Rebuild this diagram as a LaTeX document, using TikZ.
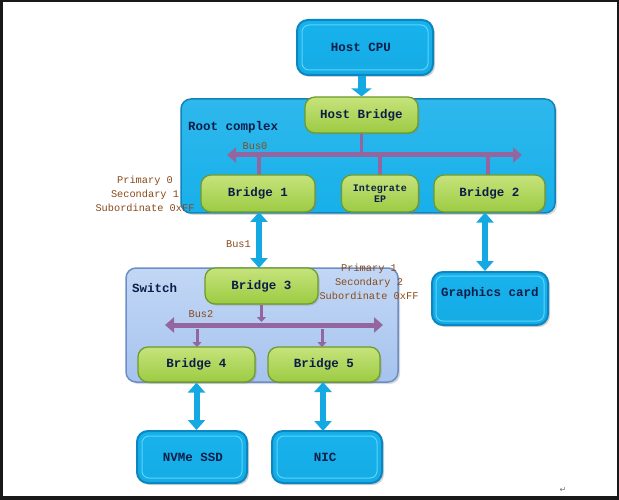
\documentclass[tikz,border=0pt]{standalone}
\usepackage{fontspec}
\setmonofont{Liberation Mono}
\newfontfamily\symfont{DejaVu Sans}
\usetikzlibrary{arrows.meta,shadows,calc}
\definecolor{cyanL}{HTML}{5AD4FB}
\definecolor{cyanM}{HTML}{17B2EC}
\definecolor{cyanD}{HTML}{0C86C0}
\definecolor{rcFill}{HTML}{17B0EA}
\definecolor{rcDraw}{HTML}{1282BA}
\definecolor{greenL}{HTML}{C6E37C}
\definecolor{greenM}{HTML}{9CCB42}
\definecolor{greenD}{HTML}{6E9A2A}
\definecolor{swL}{HTML}{C2D7F5}
\definecolor{swM}{HTML}{A6C3EE}
\definecolor{swD}{HTML}{6C8EC6}
\definecolor{busC}{HTML}{9466A0}
\definecolor{busD}{HTML}{6E4A7E}
\definecolor{brownT}{HTML}{8A4A1C}
\definecolor{navyT}{HTML}{0C1E48}
\tikzset{
  boxtext/.style={font=\ttfamily\bfseries\fontsize{12.5}{14}\selectfont, text=navyT},
  greenbox/.style={boxtext, rounded corners=10pt, inner sep=0pt, draw=greenD, line width=1.2pt,
    top color=greenL, bottom color=greenM, drop shadow={shadow xshift=1.5pt, shadow yshift=-1.5pt, opacity=0.35}},
  devbox/.style={boxtext, rounded corners=11pt, inner sep=0pt, draw=cyanD, line width=2pt,
    top color=cyanM, bottom color=cyanM!85!cyanD, drop shadow={shadow xshift=2pt, shadow yshift=-2pt, opacity=0.35}},
  innerline/.style={draw=cyanL, line width=1pt, rounded corners=7pt},
  rcbox/.style={rounded corners=10pt, draw=rcDraw, line width=1.5pt, top color=rcFill!90!white, bottom color=rcFill,
    drop shadow={shadow xshift=2pt, shadow yshift=-2pt, opacity=0.3}},
  swbox/.style={rounded corners=10pt, draw=swD, line width=1.5pt, top color=swL, bottom color=swM,
    drop shadow={shadow xshift=2pt, shadow yshift=-2pt, opacity=0.3}},
  grouplabel/.style={font=\ttfamily\bfseries\fontsize{12.5}{14}\selectfont, text=navyT, anchor=west, inner sep=0pt},
  buslabel/.style={font=\ttfamily\fontsize{10.3}{12}\selectfont, text=brownT, inner sep=0pt},
  numlabel/.style={font=\ttfamily\fontsize{10.3}{14}\selectfont, text=brownT, align=center, inner sep=0pt},
  bus/.style={line width=5pt, draw=busC, {Triangle[length=9pt,width=15pt]}-{Triangle[length=9pt,width=15pt]}},
  buslink/.style={line width=3.5pt, draw=busC},
  busarrow/.style={line width=3pt, draw=busC, -{Triangle[length=5pt,width=9pt]}},
  pipe/.style={line width=6pt, draw=cyanM!80!cyanD, {Triangle[length=10pt,width=17pt]}-{Triangle[length=10pt,width=17pt]}},
  downpipe/.style={line width=8pt, draw=cyanM!80!cyanD, -{Triangle[length=8pt,width=20pt]}},
}
\begin{document}
\begin{tikzpicture}[x=1pt,y=-1pt]
\fill[black!90] (0,0) rectangle (619,500);
\fill[white] (3,2) rectangle (617,496);
\useasboundingbox (0,0) rectangle (619,500);

% containers
\node[rcbox, minimum width=374pt, minimum height=114pt] (rc) at (368,156) {};
\node[swbox, minimum width=272pt, minimum height=114pt] (sw) at (262,325) {};
\node[grouplabel] (rclab) at (188,127) {Root complex};
\node[grouplabel] (swlab) at (132,288) {Switch};

% bus coordinates
\coordinate (bus0l) at (227,155);
\coordinate (bus0r) at (522,155);
\coordinate (bus2l) at (165,325);
\coordinate (bus2r) at (383,325);

% nodes
\node[devbox, minimum width=136pt, minimum height=55pt] (cpu) at (365,47.5) {};
\draw[innerline] ([shift={(6,6)}]cpu.north west) rectangle ([shift={(-6,-6)}]cpu.south east);
\node[boxtext] (cputxt) at (361,47.5) {Host CPU};

\node[greenbox, minimum width=113pt, minimum height=36pt] (hb) at (361.5,115) {Host Bridge};

\draw[buslink] (hb.south) -- (hb.south |- bus0l);
\draw[buslink] (259,155) -- (259,176);
\draw[buslink] (380,155) -- (380,176);
\draw[buslink] (488,155) -- (488,176);
\draw[bus] (bus0l) -- (bus0r);
\node[buslabel] (bus0lab) at (255,146) {Bus0};

\node[greenbox, minimum width=114pt, minimum height=37pt] (b1) at (258,193.5) {Bridge 1};
\node[greenbox, minimum width=77pt, minimum height=37pt, align=center,
      font=\ttfamily\bfseries\fontsize{10}{11}\selectfont] (ie) at (380,193.5) {Integrate\\EP};
\node[greenbox, minimum width=111pt, minimum height=37pt] (b2) at (489.5,193.5) {Bridge 2};

\node[greenbox, minimum width=113pt, minimum height=36pt] (b3) at (261.5,286) {Bridge 3};

\draw[busarrow] (b3.south) -- ($(b3.south |- bus2l)+(0,-3)$);
\draw[busarrow] ($(197,325)+(0,4)$) -- (197,347);
\draw[busarrow] ($(322,325)+(0,4)$) -- (322,347);
\draw[bus] (bus2l) -- (bus2r);
\node[buslabel] (bus2lab) at (201,314) {Bus2};

\node[greenbox, minimum width=117pt, minimum height=35pt] (b4) at (196.5,364.5) {Bridge 4};
\node[greenbox, minimum width=112pt, minimum height=35pt] (b5) at (324,364.5) {Bridge 5};

\node[devbox, minimum width=116pt, minimum height=53pt] (gc) at (490,298.5) {};
\draw[innerline] ([shift={(5,5)}]gc.north west) rectangle ([shift={(-5,-5)}]gc.south east);
\node[boxtext] (gctxt) at (490,293) {Graphics card};

\node[devbox, minimum width=110pt, minimum height=52pt] (nvme) at (192,457) {};
\draw[innerline] ([shift={(6,6)}]nvme.north west) rectangle ([shift={(-6,-6)}]nvme.south east);
\node[boxtext] (nvmetxt) at (193,457) {NVMe SSD};

\node[devbox, minimum width=110pt, minimum height=52pt] (nic) at (327,457) {};
\draw[innerline] ([shift={(6,6)}]nic.north west) rectangle ([shift={(-6,-6)}]nic.south east);
\node[boxtext] (nictxt) at (325,457) {NIC};

% cyan connectors
\draw[downpipe] (cpu.south -| hb.north) -- (hb.north);
\draw[pipe] (259,212) -- (259,268);
\node[buslabel] (bus1lab) at (238.5,244) {Bus1};
\draw[pipe] (b2.south -| 485,0) -- (gc.north -| 485,0);
\draw[pipe] (b4.south) -- (b4.south |- nvme.north);
\draw[pipe] (323,382) -- (323,431);

% numbering labels
\node[numlabel] (num0) at (145,194) {Primary 0\\Secondary 1\\Subordinate 0xFF};
\node[numlabel] (num1) at (369,281.5) {Primary 1\\Secondary 2\\Subordinate 0xFF};

\node[font=\symfont\fontsize{8}{8}\selectfont, text=black!55, inner sep=0pt] (ret) at (563,490) {↵};
\end{tikzpicture}
\end{document}
